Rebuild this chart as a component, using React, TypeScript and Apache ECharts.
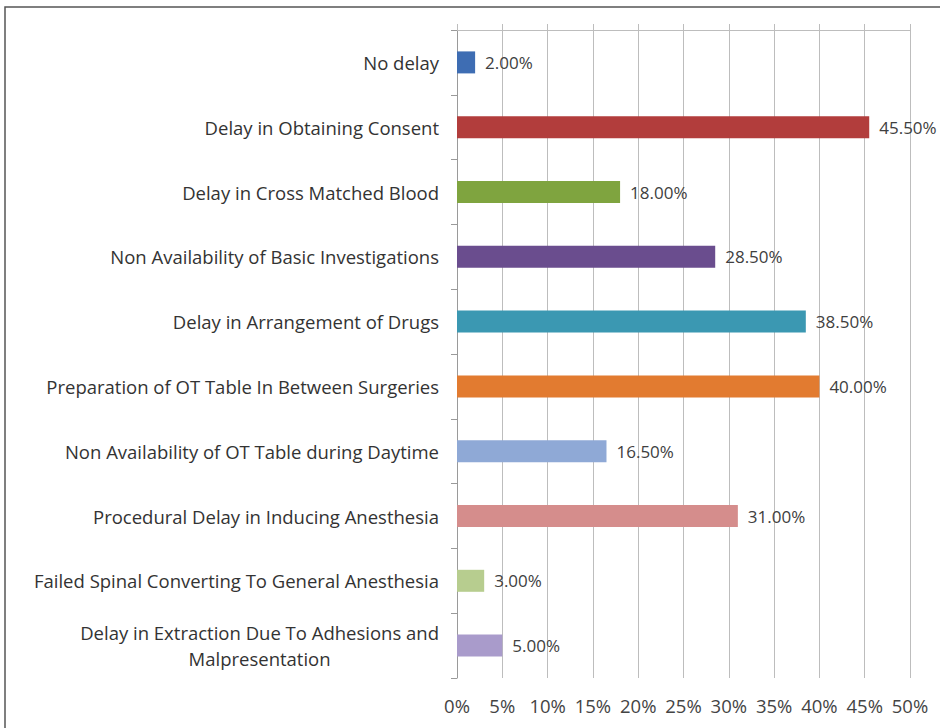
import React, { useEffect, useRef } from "react";
import * as echarts from "echarts";

const categories = [
  "No delay",
  "Delay in Obtaining Consent",
  "Delay in Cross Matched Blood",
  "Non Availability of Basic Investigations",
  "Delay in Arrangement of Drugs",
  "Preparation of OT Table In Between Surgeries",
  "Non Availability of OT Table during Daytime",
  "Procedural Delay in Inducing Anesthesia",
  "Failed Spinal Converting To General Anesthesia",
  "Delay in Extraction Due To Adhesions and\nMalpresentation",
];
const values = [2.0, 45.5, 18.0, 28.5, 38.5, 40.0, 16.5, 31.0, 3.0, 5.0];
const colors = [
  "#3E6DB3",
  "#B23D3C",
  "#7FA43F",
  "#6A4D8E",
  "#3B98B2",
  "#E27B30",
  "#8FA9D6",
  "#D58D8C",
  "#B7CD8F",
  "#A99BCB",
];
const tickValues = [0, 5, 10, 15, 20, 25, 30, 35, 40, 45, 50];

export default function App() {
  const ref = useRef<HTMLDivElement>(null);
  useEffect(() => {
    document.body.style.margin = "0";
    const chart = echarts.init(ref.current!, null, { renderer: "svg" });
    const font = "'Open Sans', Lato, sans-serif";
    const fs = 18.5;
    const vfs = 17;
    const cats = [...categories].reverse();
    const vals = [...values].reverse();
    const cols = [...colors].reverse();
    const minV = tickValues[0];
    const maxV = tickValues[tickValues.length - 1];
    chart.setOption({
      animation: false,
      backgroundColor: "#ffffff",
      graphic: [
        {
          type: "rect",
          shape: { x: 5, y: 7, width: 980, height: 760 },
          style: { fill: "none", stroke: "#555555", lineWidth: 1.5 },
          silent: true,
        },
      ],
      grid: { left: 457, right: 30, top: 30, bottom: 50 },
      xAxis: [
        {
          type: "value",
          min: minV,
          max: maxV,
          interval: 5,
          axisLine: { show: false },
          axisTick: { show: false },
          splitLine: { show: true, lineStyle: { color: "#BDBDBD", width: 1 } },
          axisLabel: {
            formatter: (v: number) => v + "%",
            color: "#444444",
            fontSize: 18.5,
            fontFamily: font,
            margin: 18,
          },
        },
        {
          type: "value",
          position: "top",
          min: minV,
          max: maxV,
          interval: 5,
          axisLine: { show: true, lineStyle: { color: "#BDBDBD", width: 1 } },
          axisTick: { show: true, length: 6, lineStyle: { color: "#BDBDBD" } },
          splitLine: { show: false },
          axisLabel: { show: false },
        },
      ],
      yAxis: {
        type: "category",
        data: cats,
        axisLine: { show: true, lineStyle: { color: "#9A9A9A", width: 1 } },
        axisTick: { show: true, length: 6, lineStyle: { color: "#9A9A9A" } },
        axisLabel: {
          color: "#333333",
          fontSize: fs,
          fontFamily: font,
          margin: 18,
          lineHeight: 26,
          formatter: (v: string) =>
            v
              .split("\n")
              .map((s) => "{c|" + s + "}")
              .join("\n"),
          rich: {
            c: {
              align: "center",
              color: "#333333",
              fontSize: fs,
              fontFamily: font,
              lineHeight: 26,
            },
          },
        },
      },
      series: [
        {
          type: "bar",
          barWidth: 22,
          xAxisIndex: 0,
          data: vals.map((v, i) => ({
            value: v,
            itemStyle: { color: cols[i] },
          })),
          label: {
            show: true,
            position: "right",
            distance: 10,
            formatter: (p: any) => p.value.toFixed(2) + "%",
            color: "#404040",
            fontSize: vfs,
            fontFamily: font,
          },
        },
      ],
    });
    return () => chart.dispose();
  }, []);
  return <div ref={ref} style={{ width: 940, height: 728 }} />;
}
